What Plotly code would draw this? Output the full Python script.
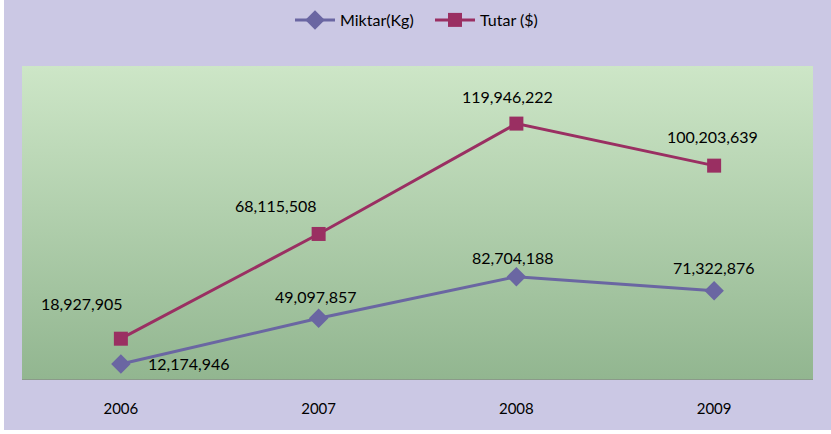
import base64
import plotly.graph_objects as go

years = ["2006", "2007", "2008", "2009"]
miktar = [12174946, 49097857, 82704188, 71322876]
tutar = [18927905, 68115508, 119946222, 100203639]

# label offsets (px) for data labels
tutar_off = [(-39, 35), (-43, 28), (-9, 27), (-2, 29)]
miktar_off = [(68, 0), (-3, 22), (-3, 19), (0, 23)]

W, H = 831, 434
L, R, T, B = 22, 18, 66, 55
pw, ph = W - L - R, H - T - B

FONT = "Lato"
c_mik = "#6a66a2"
c_tut = "#9a2f62"
lav = "#cbc8e4"

svg = ('<svg xmlns="http://www.w3.org/2000/svg" width="100" height="100" preserveAspectRatio="none">'
       '<defs><linearGradient id="g" x1="0" y1="0" x2="0" y2="1">'
       '<stop offset="0" stop-color="#cde6c7"/><stop offset="1" stop-color="#92b690"/>'
       '</linearGradient></defs><rect width="100" height="100" fill="url(#g)"/></svg>')
uri = "data:image/svg+xml;base64," + base64.b64encode(svg.encode()).decode()

fig = go.Figure()
fig.add_trace(go.Scatter(x=years, y=miktar, name="Miktar(Kg)", mode="lines+markers",
                         line=dict(color=c_mik, width=3),
                         marker=dict(symbol="diamond", size=15, color=c_mik),
                         yaxis="y2"))
fig.add_trace(go.Scatter(x=years, y=tutar, name="Tutar ($)", mode="lines+markers",
                         line=dict(color=c_tut, width=3),
                         marker=dict(symbol="square", size=14, color=c_tut),
                         yaxis="y"))

ann = []
for i, y in enumerate(years):
    ann.append(dict(x=i, y=tutar[i], xref="x", yref="y", text=f"{tutar[i]:,}",
                    showarrow=False, xshift=tutar_off[i][0], yshift=tutar_off[i][1],
                    font=dict(family=FONT, size=16, color="black")))
    ann.append(dict(x=i, y=miktar[i], xref="x", yref="y2", text=f"{miktar[i]:,}",
                    showarrow=False, xshift=miktar_off[i][0], yshift=miktar_off[i][1],
                    font=dict(family=FONT, size=16, color="black")))

fig.update_layout(
    width=W, height=H,
    margin=dict(l=L, r=R, t=T, b=B, autoexpand=False),
    paper_bgcolor=lav,
    plot_bgcolor="rgba(0,0,0,0)",
    font=dict(family=FONT, size=15, color="black"),
    showlegend=True,
    legend=dict(orientation="h", xref="container", yref="container",
                x=(295 - 5) / W, xanchor="left", y=1 - 20 / H, yanchor="middle",
                font=dict(family=FONT, size=16, color="black"), bgcolor="rgba(0,0,0,0)",
                itemwidth=40, entrywidth=85),
    xaxis=dict(type="category", range=[-0.5, 3.5], showgrid=False, zeroline=False, showline=True,
               linecolor="#8b9a8a", linewidth=1, ticks="", ticklabelstandoff=16,
               tickfont=dict(family=FONT, size=15, color="black")),
    yaxis=dict(range=[0, 147e6], visible=False, showgrid=False, zeroline=False),
    yaxis2=dict(range=[0, 253e6], visible=False, showgrid=False, zeroline=False,
                overlaying="y"),
    images=[dict(source=uri, xref="paper", yref="paper", x=0, y=1, sizex=1, sizey=1,
                 xanchor="left", yanchor="top", sizing="stretch", layer="below")],
    shapes=[
        dict(type="rect", xref="paper", yref="paper", x0=-L / pw - 0.01, x1=(4 - L) / pw,
             y0=-B / ph - 0.01, y1=1 + T / ph + 0.01, fillcolor="white", line_width=0),
        dict(type="rect", xref="paper", yref="paper", x0=-L / pw - 0.01, x1=1 + R / pw + 0.01,
             y0=-B / ph - 0.01, y1=-(430 - (H - B)) / ph, fillcolor="white", line_width=0),
    ],
    annotations=ann,
)

fig.write_html("out.html", config={"displayModeBar": False},
               post_script="document.body.style.margin='0';document.body.style.overflow='hidden';")
